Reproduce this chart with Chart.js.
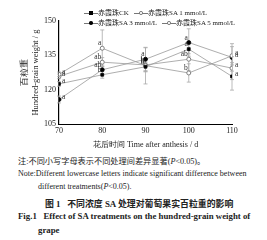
<!DOCTYPE html>
<html>
<head>
<meta charset="utf-8">
<script src="https://cdn.jsdelivr.net/npm/chart.js@4.4.1/dist/chart.umd.min.js"></script>
<style>
  body { margin: 0; background: #fff; width: 267px; height: 240px; overflow: hidden; position: relative;
         font-family: "Liberation Serif", "Noto Sans CJK SC", serif; color: #222; }
  #wrap { position: absolute; left: 0; top: 0; width: 267px; height: 150px; }
  .leg { position: absolute; font-size: 7px; white-space: nowrap; line-height: 9px; }
  .mk { display: inline-block; position: relative; width: 14px; height: 9px; vertical-align: top; }
  .mk::before { content: ''; position: absolute; left: 0; right: 0; top: 4px; border-top: 0.8px solid #777; }
  .mk i { position: absolute; left: 5px; top: 2px; width: 3.5px; height: 3.5px; box-sizing: border-box; }
  .note { position: absolute; font-size: 8px; white-space: nowrap; }
  .bold { font-weight: bold; }
</style>
</head>
<body>
<div id="wrap"><canvas id="chart"></canvas></div>

<div class="leg" style="left:84px;top:9px"><span class="mk"><i style="background:#000"></i></span>赤霞珠CK</div>
<div class="leg" style="left:134px;top:9px"><span class="mk"><i style="border:0.8px solid #666;border-radius:50%;background:#fff"></i></span>赤霞珠SA 1 mmol/L</div>
<div class="leg" style="left:84px;top:19px"><span class="mk"><i style="background:#000;border-radius:50%"></i></span>赤霞珠SA 3 mmol/L</div>
<div class="leg" style="left:162px;top:19px"><span class="mk"><i style="border:0.8px solid #666;border-radius:50%;background:#fff"></i></span>赤霞珠SA 5 mmol/L</div>

<div class="note" style="left:18px;top:154px;font-size:8.2px">注:不同小写字母表示不同处理间差异显著(<i>P</i>&lt;0.05)。</div>
<div class="note" style="left:18px;top:169px;font-size:8px">Note:Different lowercase letters indicate significant difference between</div>
<div class="note" style="left:38px;top:182px;font-size:8px">different treatments(<i>P</i>&lt;0.05).</div>
<div class="note bold" style="left:45px;top:197px;font-size:8.9px">图 1&nbsp;&nbsp;&nbsp;不同浓度 SA 处理对葡萄果实百粒重的影响</div>
<div class="note bold" style="left:18px;top:211px;font-size:8.8px">Fig.1&nbsp;&nbsp;&nbsp;Effect of SA treatments on the hundred-grain weight of</div>
<div class="note bold" style="left:38px;top:225px;font-size:8.8px">grape</div>

<script>
const days = [70, 80, 90, 100, 110];
const yTicks = [105, 120, 135, 150];

const ck  = [122.5, 126.5, 130.0, 137.7, 125.8];
const sa1 = [126.7, 138.1, 130.5, 127.3, 134.8];
const sa3 = [115.7, 128.7, 133.3, 140.6, 134.1];
const sa5 = [125.8, 132.0, 130.8, 133.3, 129.4];

const ckErr  = [1.0, 1.5, 2.0, 2.0, 6.0];
const sa1Err = [1.0, 8.0, 8.0, 4.0, 4.0];
const sa3Err = [1.5, 2.0, 5.0, 6.0, 6.0];
const sa5Err = [1.0, 2.0, 3.0, 5.0, 5.0];

const ckSig  = ['a', 'b', 'b', 'a', 'a'];
const sa1Sig = ['a', 'a', 'b', 'b', 'a'];
const sa3Sig = ['a', 'ab', 'a', 'a', 'a'];
const sa5Sig = ['a', 'ab', 'b', 'ab', 'a'];

const toPts = vals => days.map((d, i) => ({ x: d, y: vals[i] }));

const series = [
    { label: '赤霞珠CK', data: ck, err: ckErr, sig: ckSig, style: 'rect', fill: '#000' },
    { label: '赤霞珠SA 1 mmol/L', data: sa1, err: sa1Err, sig: sa1Sig, style: 'circle', fill: '#fff' },
    { label: '赤霞珠SA 3 mmol/L', data: sa3, err: sa3Err, sig: sa3Sig, style: 'circle', fill: '#000' },
    { label: '赤霞珠SA 5 mmol/L', data: sa5, err: sa5Err, sig: sa5Sig, style: 'circle', fill: '#fff' }
];

const errorBars = {
    id: 'errorBars',
    beforeDatasetsDraw(chart) {
        const { ctx, scales: { x, y } } = chart;
        ctx.save();
        ctx.strokeStyle = '#aaa';
        ctx.lineWidth = 0.8;
        series.forEach(s => {
            days.forEach((d, i) => {
                const px = x.getPixelForValue(d);
                const top = y.getPixelForValue(s.data[i] + s.err[i]);
                const bot = y.getPixelForValue(s.data[i] - s.err[i]);
                ctx.beginPath();
                ctx.moveTo(px, top); ctx.lineTo(px, bot);
                ctx.moveTo(px - 2, top); ctx.lineTo(px + 2, top);
                ctx.moveTo(px - 2, bot); ctx.lineTo(px + 2, bot);
                ctx.stroke();
            });
        });
        ctx.restore();
    },
    afterDatasetsDraw(chart) {
        const { ctx, scales: { x, y } } = chart;
        ctx.save();
        ctx.fillStyle = '#333';
        ctx.font = '7.5px "Liberation Serif", serif';
        ctx.textBaseline = 'bottom';
        series.forEach(s => {
            days.forEach((d, i) => {
                const px = x.getPixelForValue(d);
                const py = y.getPixelForValue(s.data[i]);
                if (i === 0 || i === days.length - 1) {
                    ctx.textAlign = 'left';
                    ctx.fillText(s.sig[i], px + 3, py + 1);
                } else {
                    ctx.textAlign = 'right';
                    ctx.fillText(s.sig[i], px - 1, py - 1);
                }
            });
        });
        ctx.restore();
    }
};

new Chart(document.getElementById('chart'), {
    type: 'line',
    data: {
        datasets: series.map(s => ({
            label: s.label,
            data: toPts(s.data),
            borderColor: '#999',
            borderWidth: 0.8,
            pointStyle: s.style,
            pointRadius: 2,
            pointBackgroundColor: s.fill,
            pointBorderColor: s.fill === '#000' ? '#000' : '#666',
            pointBorderWidth: 0.8,
            tension: 0
        }))
    },
    options: {
        responsive: true,
        maintainAspectRatio: false,
        animation: false,
        layout: { padding: { top: 21, right: 35, left: 20, bottom: 0 } },
        plugins: { legend: { display: false }, tooltip: { enabled: false } },
        scales: {
            x: {
                type: 'linear',
                min: 70, max: 110,
                border: { color: '#000', width: 1 },
                grid: { display: false, drawTicks: false },
                afterBuildTicks: s => { s.ticks = days.map(v => ({ value: v })); },
                afterFit: s => { s.height = 26; },
                ticks: { color: '#222', padding: 2, font: { family: 'Liberation Serif', size: 8 } },
                title: { display: true, text: '花后时间 Time after anthesis / d', color: '#222',
                         padding: { top: 3, bottom: 0 }, font: { family: 'Liberation Serif', size: 8 } }
            },
            y: {
                min: 105, max: 150,
                border: { color: '#000', width: 1.2 },
                grid: { display: false, drawTicks: false },
                afterBuildTicks: s => { s.ticks = yTicks.map(v => ({ value: v })); },
                afterFit: s => { s.width = 39; },
                ticks: { color: '#222', padding: 3, font: { family: 'Liberation Serif', size: 8 } },
                title: { display: true, text: ['百粒重', 'Hundred-grain weight / g'], color: '#222',
                         padding: { top: 0, bottom: 0 }, font: { family: 'Liberation Serif', size: 8.5, lineHeight: 1.2 } }
            }
        }
    },
    plugins: [errorBars]
});
</script>
</body>
</html>
